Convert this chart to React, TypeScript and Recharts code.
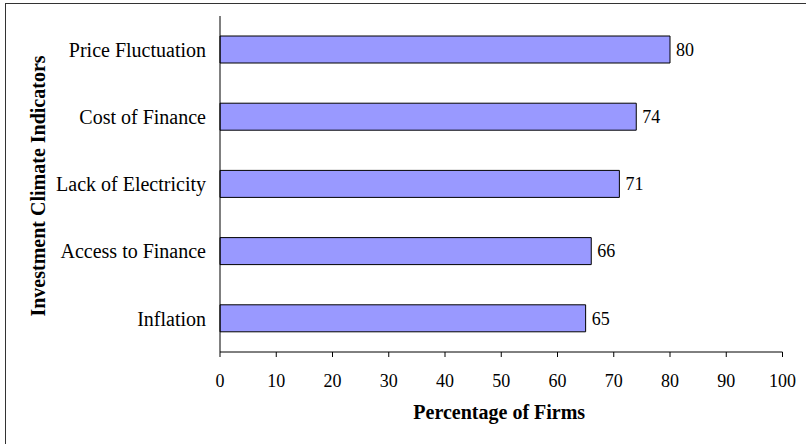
import React from 'react';
import { BarChart, Bar, XAxis, YAxis, LabelList, Label } from 'recharts';

const indicators = [
    'Price Fluctuation',
    'Cost of Finance',
    'Lack of Electricity',
    'Access to Finance',
    'Inflation',
];
const firmShares = [80, 74, 71, 66, 65];
const percentTicks = [0, 10, 20, 30, 40, 50, 60, 70, 80, 90, 100];
const bandEdges = [0, 1, 2, 3, 4, 5];

const SERIF = '"Liberation Serif", "Times New Roman", serif';

const data = indicators.map((name, i) => ({ name, value: firmShares[i] }));

const XTitle = ({ viewBox }: any) => (
    <text
        x={viewBox.x + viewBox.width / 2 - 2}
        y={viewBox.y + 67}
        textAnchor="middle"
        fontFamily={SERIF}
        fontSize={20}
        fontWeight="bold"
        fill="#000"
    >
        Percentage of Firms
    </text>
);

const YTitle = ({ viewBox }: any) => {
    const x = viewBox.x + 45;
    const y = viewBox.y + viewBox.height / 2 + 2;
    return (
        <text
            x={x}
            y={y}
            transform={`rotate(-90, ${x}, ${y})`}
            textAnchor="middle"
            fontFamily={SERIF}
            fontSize={20}
            fontWeight="bold"
            fill="#000"
        >
            Investment Climate Indicators
        </text>
    );
};

export default function App() {
    return (
        <div style={{ position: 'absolute', left: 0, top: 0, width: 806, height: 444, overflow: 'hidden', background: '#fff' }}>
            {/* frame edge, only top and left visible */}
            <div
                style={{
                    position: 'absolute',
                    left: 5,
                    top: 3,
                    width: 820,
                    height: 460,
                    borderTop: '1.5px solid #333',
                    borderLeft: '1.5px solid #333',
                }}
            />
            <BarChart
                width={806}
                height={444}
                data={data}
                layout="vertical"
                margin={{ top: 16, right: 23.5, bottom: 0, left: 0 }}
                style={{ position: 'absolute', left: 0, top: 0 }}
            >
                {/* tick marks between categories */}
                <YAxis
                    yAxisId="edges"
                    type="number"
                    domain={[0, 5]}
                    ticks={bandEdges}
                    width={0}
                    axisLine={false}
                    tickLine={{ stroke: '#000' }}
                    tickSize={5}
                    tickFormatter={() => ''}
                />
                <YAxis
                    yAxisId="cat"
                    type="category"
                    dataKey="name"
                    width={220}
                    interval={0}
                    axisLine={{ stroke: '#000' }}
                    tickLine={false}
                    tickSize={0}
                    tickMargin={14}
                    tick={{ fill: '#000', fontSize: 20, fontFamily: SERIF }}
                >
                    <Label content={<YTitle />} />
                </YAxis>
                <XAxis
                    type="number"
                    domain={[0, 100]}
                    ticks={percentTicks}
                    height={92}
                    axisLine={{ stroke: '#000' }}
                    tickLine={{ stroke: '#000' }}
                    tickSize={5}
                    tickMargin={17}
                    tick={{ fill: '#000', fontSize: 18, fontFamily: SERIF }}
                >
                    <Label content={<XTitle />} />
                </XAxis>
                <Bar
                    yAxisId="cat"
                    dataKey="value"
                    barSize={27}
                    fill="#9999FF"
                    stroke="#000"
                    strokeWidth={1}
                    isAnimationActive={false}
                >
                    <LabelList
                        dataKey="value"
                        position="right"
                        offset={6}
                        fill="#000"
                        fontSize={18}
                        fontFamily={SERIF}
                    />
                </Bar>
            </BarChart>
        </div>
    );
}
